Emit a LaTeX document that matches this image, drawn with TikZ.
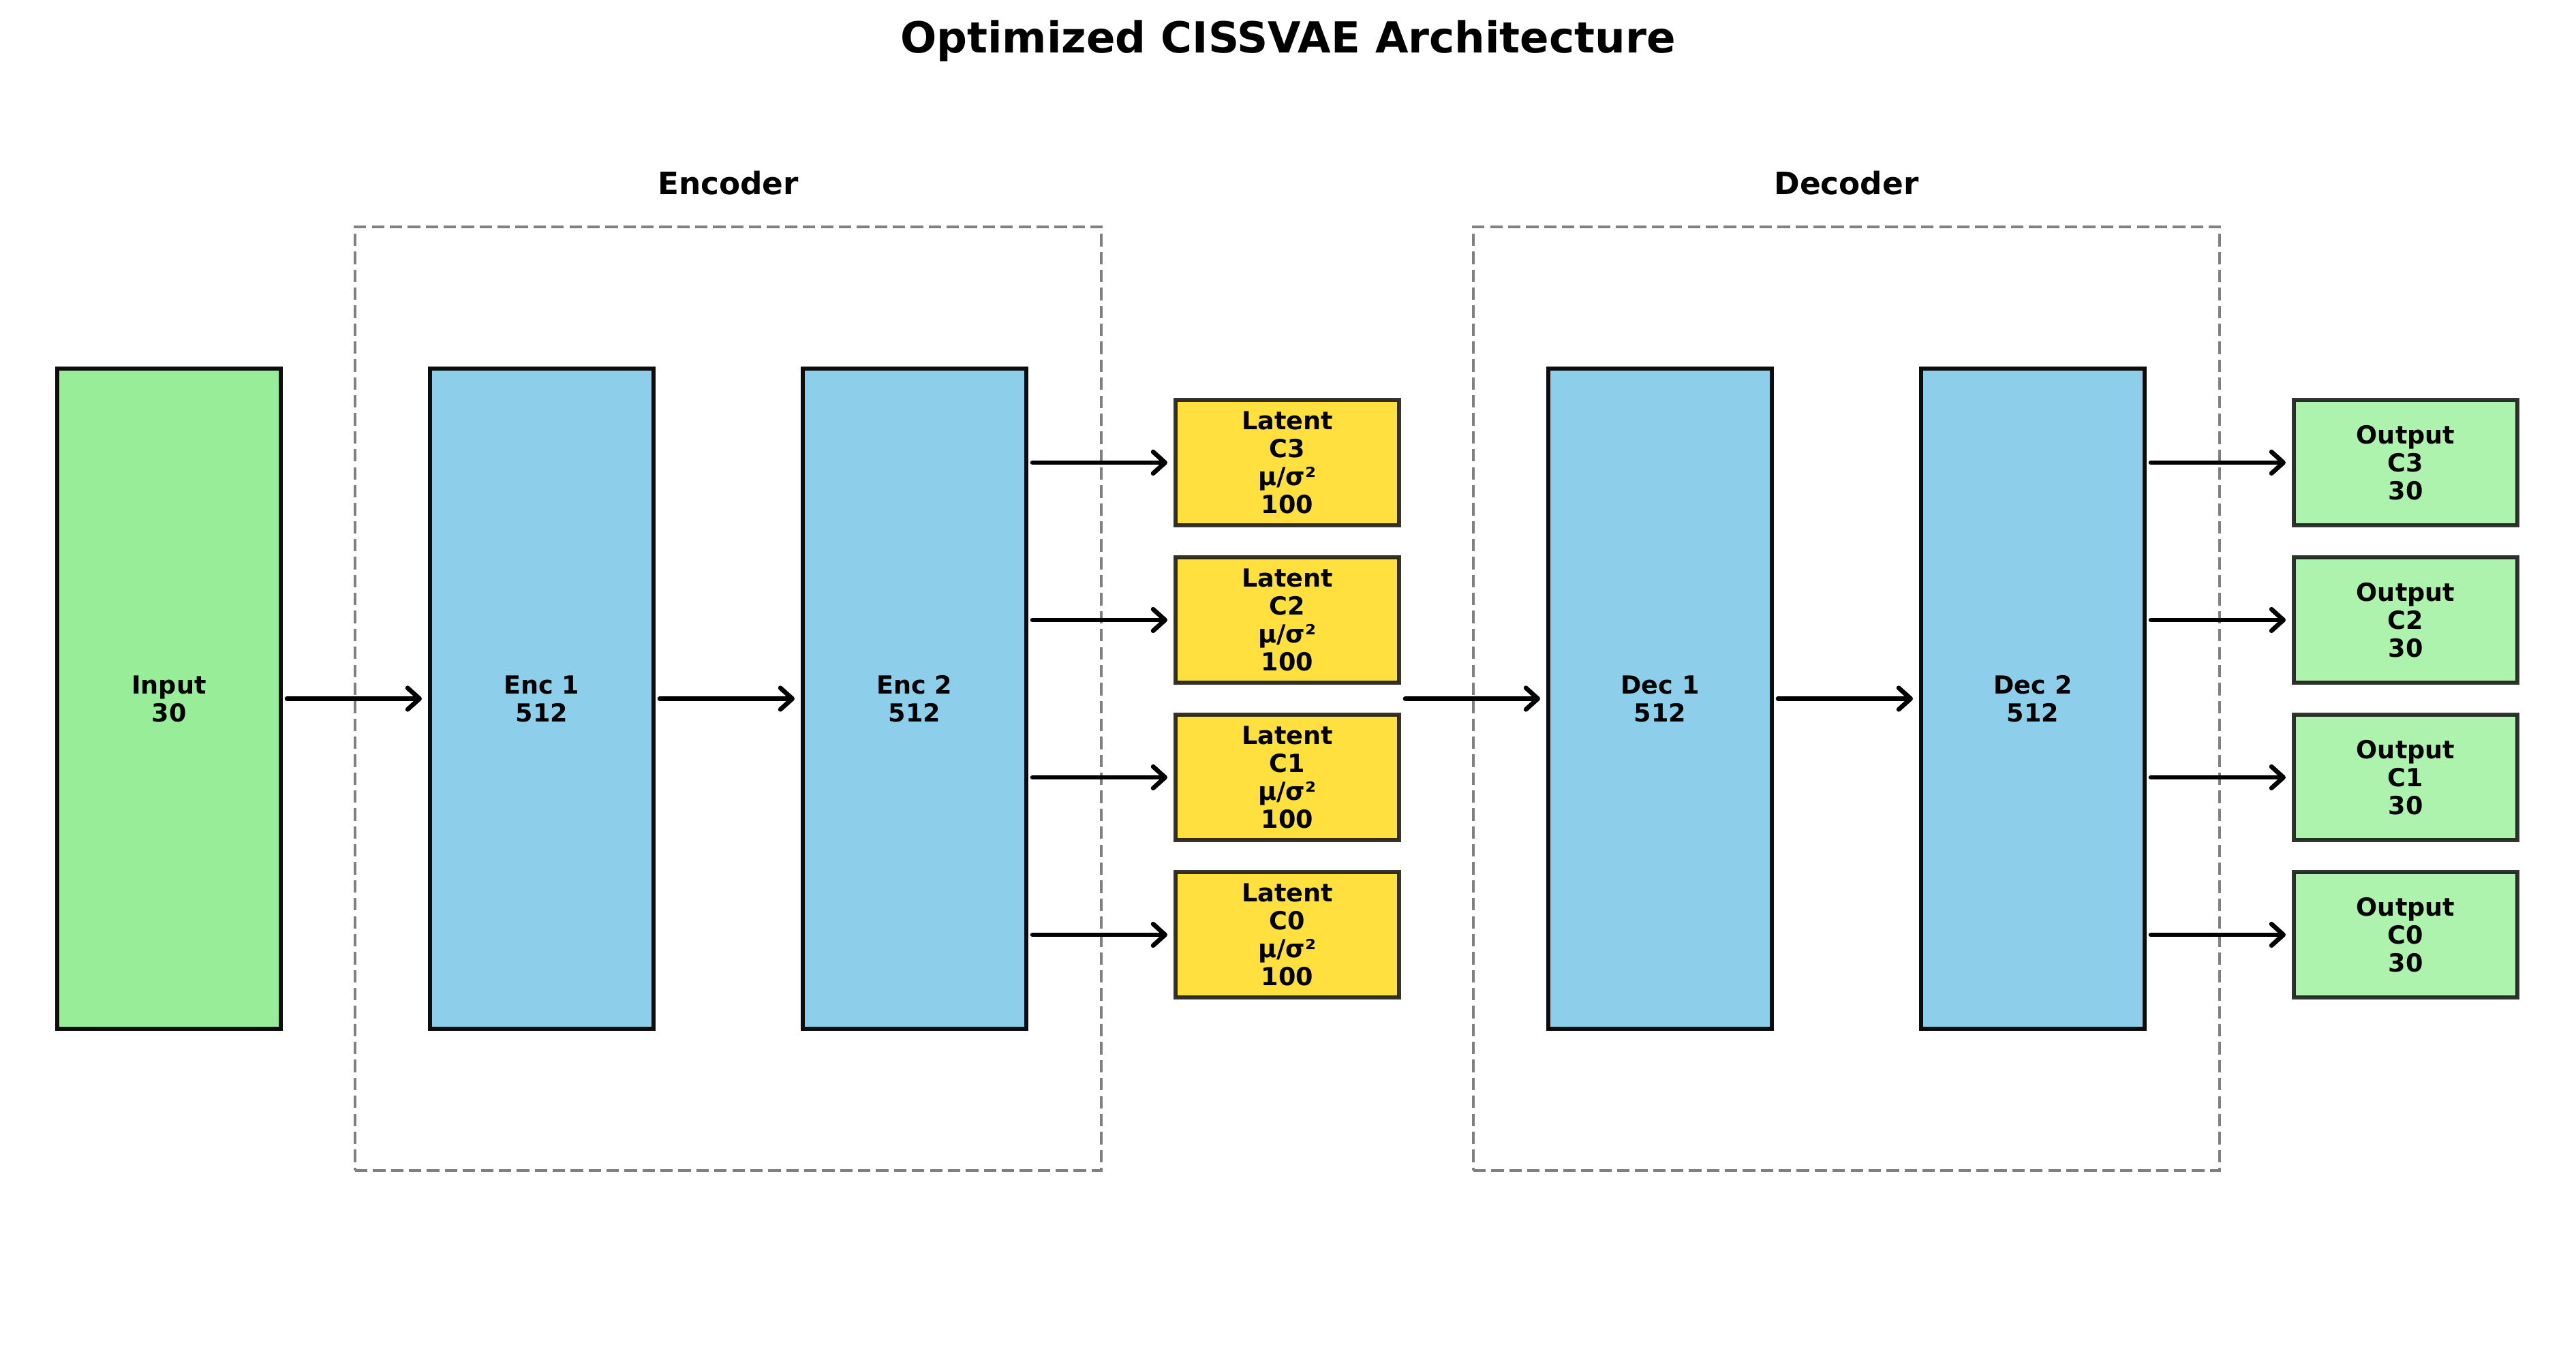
\documentclass[tikz,border=0pt]{standalone}
\usepackage{fontspec}
\setmainfont{DejaVu Sans}
\usepackage{tikz}
\usetikzlibrary{arrows.meta,fit}
\definecolor{ingreen}{HTML}{98EE98}
\definecolor{layerblue}{HTML}{8DCFEA}
\definecolor{latgold}{HTML}{FFE03F}
\definecolor{outgreen}{HTML}{ADF2AD}
\definecolor{framegray}{HTML}{808080}
\definecolor{edgeblack}{HTML}{0D0D0D}
\newcommand{\boxfont}{\bfseries\fontsize{10.4}{11.7}\selectfont}
\tikzset{
  layerbox/.style={draw=edgeblack, line width=1.8pt, minimum width=3.28cm, minimum height=9.69cm, outer sep=0pt, inner sep=0pt, align=center, font=\boxfont},
  headbox/.style={layerbox, draw=black, draw opacity=0.8, minimum height=1.84cm},
  groupbox/.style={draw=framegray, line width=1.4pt, dash pattern=on 5.2pt off 2.3pt, inner xsep=1.10cm, inner ysep=2.08cm},
  grouplab/.style={font=\bfseries\fontsize{12.9}{15}\selectfont, anchor=base},
  flow/.style={-{Straight Barb[length=5pt,width=9pt,round]}, line width=1.9pt, line cap=round, shorten <=0.09cm, shorten >=0.12cm},
}

\begin{document}
\begin{tikzpicture}
  \path[use as bounding box, fill=white] (0,0) rectangle (37.8,-19.8);
  \node[font=\bfseries\fontsize{17.85}{20}\selectfont, anchor=base] (title) at (18.9,-0.77) {Optimized CISSVAE Architecture};

  % main column
  \node[layerbox, fill=ingreen] (inp) at (2.48,-10.255) {Input\\30};
  \node[layerbox, fill=layerblue] (enc1) at (7.95,-10.255) {Enc 1\\512};
  \node[layerbox, fill=layerblue] (enc2) at (13.42,-10.255) {Enc 2\\512};
  \node[layerbox, fill=layerblue] (dec1) at (24.36,-10.255) {Dec 1\\512};
  \node[layerbox, fill=layerblue] (dec2) at (29.83,-10.255) {Dec 2\\512};

  % per-cluster heads
  \foreach \k in {0,...,3}{
    \node[headbox, fill=latgold] (lat\k) at (18.89,{-13.72+2.31*\k}) {Latent\\C\k\\μ/σ²\\100};
    \node[headbox, fill=outgreen] (out\k) at (35.30,{-13.72+2.31*\k}) {Output\\C\k\\30};
  }

  % groups
  \node[groupbox, fit=(enc1)(enc2)] (encgrp) {};
  \node[groupbox, fit=(dec1)(dec2)] (decgrp) {};
  \node[grouplab] (enclab) at ([yshift=0.45cm]encgrp.north) {Encoder};
  \node[grouplab] (declab) at ([yshift=0.45cm]decgrp.north) {Decoder};

  % arrows
  \draw[flow] (inp) -- (enc1);
  \draw[flow] (enc1) -- (enc2);
  \draw[flow] (lat0.east |- dec1) -- (dec1);
  \draw[flow] (dec1) -- (dec2);
  \foreach \k in {0,...,3}{
    \draw[flow] (enc2.east |- lat\k) -- (lat\k);
    \draw[flow] (dec2.east |- out\k) -- (out\k);
  }
\end{tikzpicture}
\end{document}
